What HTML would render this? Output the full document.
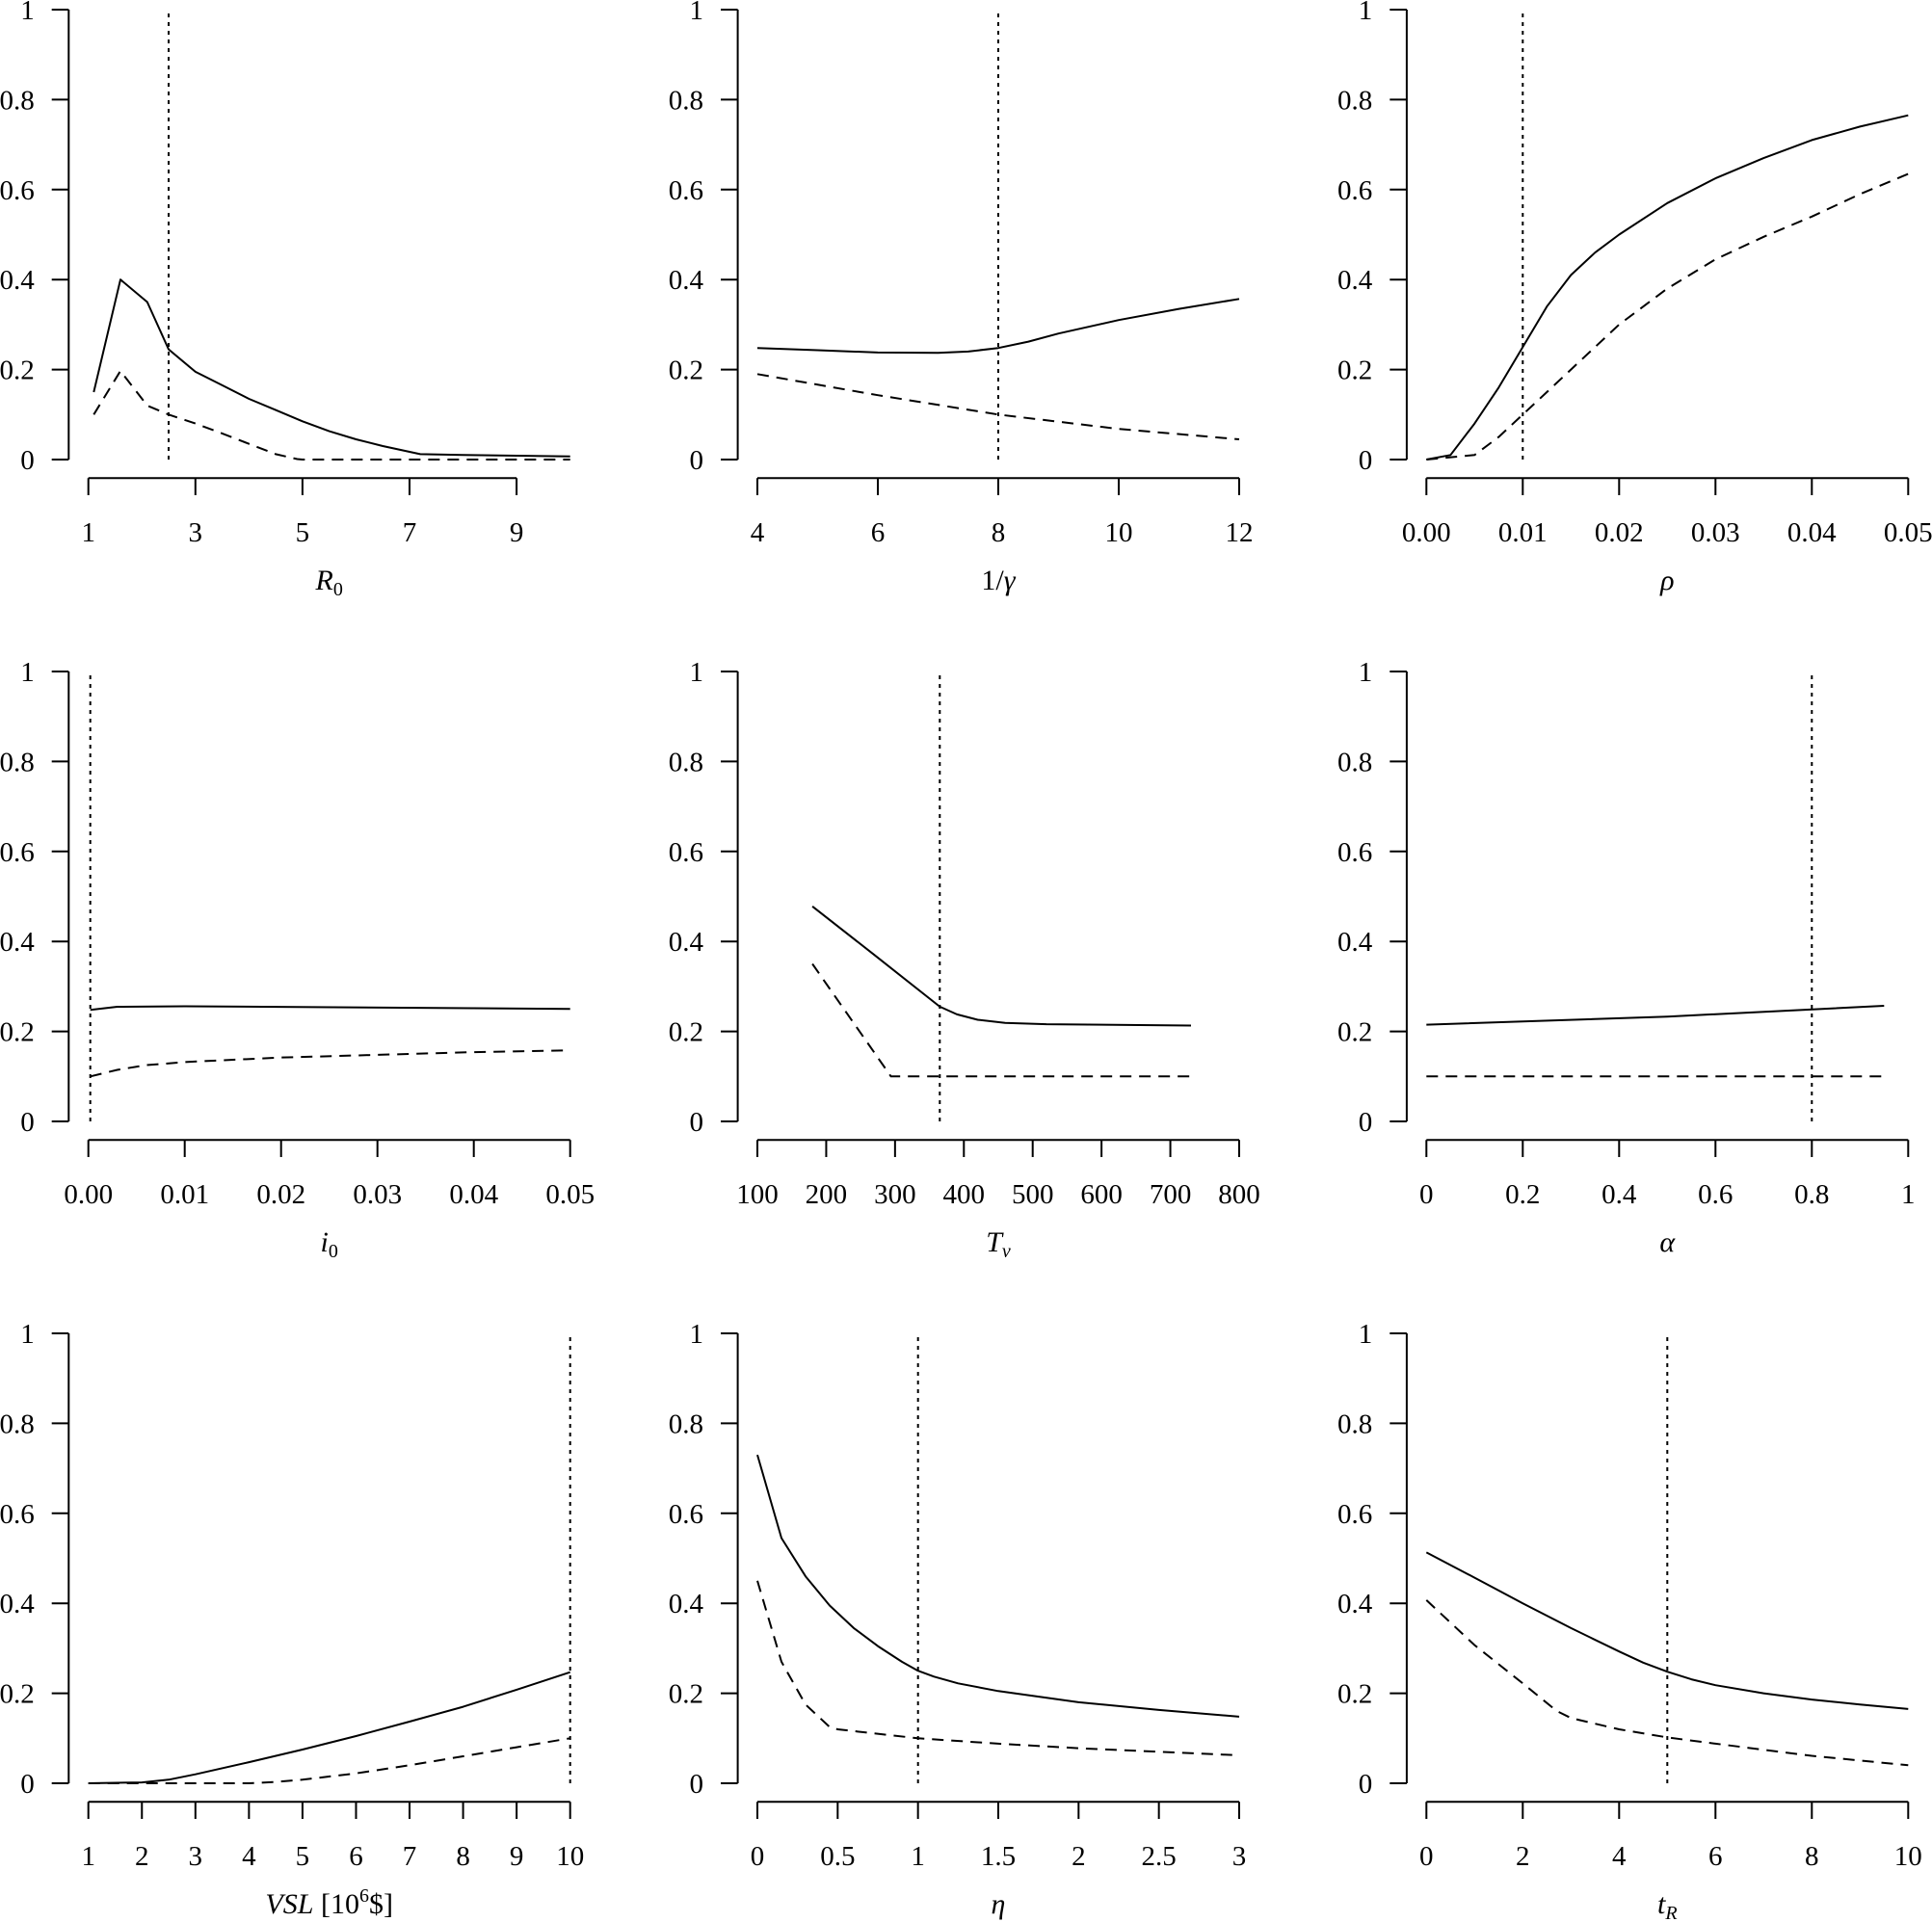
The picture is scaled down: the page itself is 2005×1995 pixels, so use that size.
<!DOCTYPE html>
<html><head><meta charset="utf-8"><style>
html,body{margin:0;padding:0;background:#fff;}
svg{display:block;}
text{font-family:"Liberation Serif","DejaVu Serif",serif;font-size:29px;fill:#000;}
.yl{text-anchor:end;}
.xl{text-anchor:middle;}
.t{text-anchor:middle;font-size:30px;}
.ax{stroke:#000;stroke-width:2;fill:none;}
.s{stroke:#000;stroke-width:2;fill:none;stroke-linejoin:round;}
.d{stroke:#000;stroke-width:2;fill:none;stroke-dasharray:12 8;}
.o{stroke:#000;stroke-width:2;fill:none;stroke-dasharray:4 5;}
</style></head><body>
<svg width="2005" height="1995" viewBox="0 0 2005 1995" xmlns="http://www.w3.org/2000/svg">
<defs>
<g id="yax">
<path class="ax" d="M-20.4 0V-467M-38 0H-20.4M-38 -93.4H-20.4M-38 -186.8H-20.4M-38 -280.2H-20.4M-38 -373.6H-20.4M-38 -467H-20.4"/>
<text class="yl" x="-56" y="10">0</text>
<text class="yl" x="-56" y="-83.4">0.2</text>
<text class="yl" x="-56" y="-176.8">0.4</text>
<text class="yl" x="-56" y="-270.2">0.6</text>
<text class="yl" x="-56" y="-363.6">0.8</text>
<text class="yl" x="-56" y="-457">1</text>
</g>
</defs>

<!-- P1 R0 -->
<g transform="translate(91.7,477)">
<use href="#yax"/>
<path class="ax" d="M0 19.3H444.4M0 19.3V37M111.1 19.3V37M222.2 19.3V37M333.3 19.3V37M444.4 19.3V37"/>
<text class="xl" x="0" y="85">1</text><text class="xl" x="111.1" y="85">3</text><text class="xl" x="222.2" y="85">5</text><text class="xl" x="333.3" y="85">7</text><text class="xl" x="444.4" y="85">9</text>
<text class="t" x="250" y="135"><tspan font-style="italic">R</tspan><tspan font-size="20" dy="6">0</tspan></text>
<path class="o" d="M83.3 0V-467"/>
<path class="s" d="M5.6 -70L33.3 -186.8L61.1 -163.5L83.3 -114.4L111.1 -91.1L138.9 -77.1L166.7 -63L194.4 -51.4L222.2 -39.7L250 -29.4L277.8 -21L305.6 -14L344.4 -5.6L388.9 -4.7L500 -3.3"/>
<path class="d" d="M5.6 -46.7L33.3 -92L61.1 -56L83.3 -46.7L111.1 -37.4L138.9 -27.1L166.7 -16.3L194.4 -5.6L216.7 -0.5L222.2 0L500 0"/>
</g>

<!-- P2 1/gamma -->
<g transform="translate(786,477)">
<use href="#yax"/>
<path class="ax" d="M0 19.3H500M0 19.3V37M125 19.3V37M250 19.3V37M375 19.3V37M500 19.3V37"/>
<text class="xl" x="0" y="85">4</text><text class="xl" x="125" y="85">6</text><text class="xl" x="250" y="85">8</text><text class="xl" x="375" y="85">10</text><text class="xl" x="500" y="85">12</text>
<text class="t" x="250" y="135">1/<tspan font-style="italic">γ</tspan></text>
<path class="o" d="M250 0V-467"/>
<path class="s" d="M0 -115.8L62.5 -113.5L125 -111.1L187.5 -110.7L218.75 -112.1L250 -115.8L281.25 -122.4L312.5 -130.8L375 -144.8L437.5 -156.4L500 -166.7"/>
<path class="d" d="M0 -88.7L125 -66.8L250 -46.7L375 -31.8L500 -21"/>
</g>

<!-- P3 rho -->
<g transform="translate(1480.3,477)">
<use href="#yax"/>
<path class="ax" d="M0 19.3H500M0 19.3V37M100 19.3V37M200 19.3V37M300 19.3V37M400 19.3V37M500 19.3V37"/>
<text class="xl" x="0" y="85">0.00</text><text class="xl" x="100" y="85">0.01</text><text class="xl" x="200" y="85">0.02</text><text class="xl" x="300" y="85">0.03</text><text class="xl" x="400" y="85">0.04</text><text class="xl" x="500" y="85">0.05</text>
<text class="t" x="250" y="135" font-style="italic">ρ</text>
<path class="o" d="M100 0V-467"/>
<path class="s" d="M0 0L25 -4.7L50 -37.4L75 -74.7L100 -116.8L125 -158.8L150 -191.5L175 -214.8L200 -233.5L250 -266.2L300 -291.9L350 -312.9L400 -331.6L450 -345.6L500 -357.3"/>
<path class="d" d="M0 0L50 -4.7L75 -23.4L100 -46.7L125 -70L150 -93.4L200 -140.1L250 -177.5L300 -207.8L350 -231.2L400 -252.2L450 -275.5L500 -296.5"/>
</g>

<!-- P4 i0 -->
<g transform="translate(91.7,1164)">
<use href="#yax"/>
<path class="ax" d="M0 19.3H500M0 19.3V37M100 19.3V37M200 19.3V37M300 19.3V37M400 19.3V37M500 19.3V37"/>
<text class="xl" x="0" y="85">0.00</text><text class="xl" x="100" y="85">0.01</text><text class="xl" x="200" y="85">0.02</text><text class="xl" x="300" y="85">0.03</text><text class="xl" x="400" y="85">0.04</text><text class="xl" x="500" y="85">0.05</text>
<text class="t" x="250" y="135"><tspan font-style="italic">i</tspan><tspan font-size="20" dy="6">0</tspan></text>
<path class="o" d="M2 0V-467"/>
<path class="s" d="M2 -115.8L30 -119L100 -119.5L500 -116.8"/>
<path class="d" d="M2 -46.7L30 -53.5L60 -58.4L100 -61.6L200 -66.3L300 -69.1L400 -71.9L500 -73.8"/>
</g>

<!-- P5 Tv -->
<g transform="translate(786,1164)">
<use href="#yax"/>
<path class="ax" d="M0 19.3H500M0 19.3V37M71.43 19.3V37M142.86 19.3V37M214.29 19.3V37M285.71 19.3V37M357.14 19.3V37M428.57 19.3V37M500 19.3V37"/>
<text class="xl" x="0" y="85">100</text><text class="xl" x="71.43" y="85">200</text><text class="xl" x="142.86" y="85">300</text><text class="xl" x="214.29" y="85">400</text><text class="xl" x="285.71" y="85">500</text><text class="xl" x="357.14" y="85">600</text><text class="xl" x="428.57" y="85">700</text><text class="xl" x="500" y="85">800</text>
<text class="t" x="250" y="135"><tspan font-style="italic">T</tspan><tspan font-size="20" dy="6" font-style="italic">v</tspan></text>
<path class="o" d="M189.3 0V-467"/>
<path class="s" d="M57.1 -223.2L121.4 -172.8L189.3 -119.1L207.1 -111.1L228.6 -105.5L257.1 -102.3L300 -100.9L450 -99.5"/>
<path class="d" d="M57.1 -163.5L138.6 -46.7L450 -46.7"/>
</g>

<!-- P6 alpha -->
<g transform="translate(1480.3,1164)">
<use href="#yax"/>
<path class="ax" d="M0 19.3H500M0 19.3V37M100 19.3V37M200 19.3V37M300 19.3V37M400 19.3V37M500 19.3V37"/>
<text class="xl" x="0" y="85">0</text><text class="xl" x="100" y="85">0.2</text><text class="xl" x="200" y="85">0.4</text><text class="xl" x="300" y="85">0.6</text><text class="xl" x="400" y="85">0.8</text><text class="xl" x="500" y="85">1</text>
<text class="t" x="250" y="135" font-style="italic">α</text>
<path class="o" d="M400 0V-467"/>
<path class="s" d="M0 -100.4L250 -108.8L475 -120"/>
<path class="d" d="M0 -46.7L475 -46.7"/>
</g>

<!-- P7 VSL -->
<g transform="translate(91.7,1851)">
<use href="#yax"/>
<path class="ax" d="M0 19.3H500M0 19.3V37M55.56 19.3V37M111.11 19.3V37M166.67 19.3V37M222.22 19.3V37M277.78 19.3V37M333.33 19.3V37M388.89 19.3V37M444.44 19.3V37M500 19.3V37"/>
<text class="xl" x="0" y="85">1</text><text class="xl" x="55.56" y="85">2</text><text class="xl" x="111.11" y="85">3</text><text class="xl" x="166.67" y="85">4</text><text class="xl" x="222.22" y="85">5</text><text class="xl" x="277.78" y="85">6</text><text class="xl" x="333.33" y="85">7</text><text class="xl" x="388.89" y="85">8</text><text class="xl" x="444.44" y="85">9</text><text class="xl" x="500" y="85">10</text>
<text class="t" x="250" y="135"><tspan font-style="italic">VSL</tspan> [10<tspan font-size="20" dy="-12">6</tspan><tspan dy="12">$]</tspan></text>
<path class="o" d="M500 0V-467"/>
<path class="s" d="M0 0L55.6 -0.9L83.3 -3.7L111.1 -9.3L166.7 -21.9L222.2 -35L277.8 -49L333.3 -64L388.9 -79.4L444.4 -97.1L500 -115.3"/>
<path class="d" d="M0 0L166.7 0L194.4 -1.4L222.2 -3.7L277.8 -10.3L333.3 -18.7L388.9 -28L444.4 -37.4L500 -46.7"/>
</g>

<!-- P8 eta -->
<g transform="translate(786,1851)">
<use href="#yax"/>
<path class="ax" d="M0 19.3H500M0 19.3V37M83.33 19.3V37M166.67 19.3V37M250 19.3V37M333.33 19.3V37M416.67 19.3V37M500 19.3V37"/>
<text class="xl" x="0" y="85">0</text><text class="xl" x="83.33" y="85">0.5</text><text class="xl" x="166.67" y="85">1</text><text class="xl" x="250" y="85">1.5</text><text class="xl" x="333.33" y="85">2</text><text class="xl" x="416.67" y="85">2.5</text><text class="xl" x="500" y="85">3</text>
<text class="t" x="250" y="135" font-style="italic">η</text>
<path class="o" d="M166.7 0V-467"/>
<path class="s" d="M0 -340.9L25 -254.5L50 -214.8L75 -184.5L100 -161.1L125 -142.4L150 -126.1L166.7 -116.8L183.3 -110.7L208.3 -103.7L250 -95.7L333.3 -84.1L416.7 -76.1L500 -69.1"/>
<path class="d" d="M0 -210.2L25 -126.1L50 -81.7L75 -58.4L83.3 -56L166.7 -46.7L250 -41.1L333.3 -36.4L500 -29"/>
</g>

<!-- P9 tR -->
<g transform="translate(1480.3,1851)">
<use href="#yax"/>
<path class="ax" d="M0 19.3H500M0 19.3V37M100 19.3V37M200 19.3V37M300 19.3V37M400 19.3V37M500 19.3V37"/>
<text class="xl" x="0" y="85">0</text><text class="xl" x="100" y="85">2</text><text class="xl" x="200" y="85">4</text><text class="xl" x="300" y="85">6</text><text class="xl" x="400" y="85">8</text><text class="xl" x="500" y="85">10</text>
<text class="t" x="250" y="135"><tspan font-style="italic">t</tspan><tspan font-size="20" dy="6" font-style="italic">R</tspan></text>
<path class="o" d="M250 0V-467"/>
<path class="s" d="M0 -239.6L50 -213.4L100 -186.8L150 -161.1L200 -136.8L225 -125.2L250 -115.8L275 -107.9L300 -101.8L350 -93.4L400 -86.9L450 -81.7L500 -77.1"/>
<path class="d" d="M0 -190.1L50 -143.4L100 -103.7L135 -75.2L150 -67.7L200 -56L250 -47.6L300 -41.1L400 -28.5L500 -18.7"/>
</g>
</svg>
</body></html>
